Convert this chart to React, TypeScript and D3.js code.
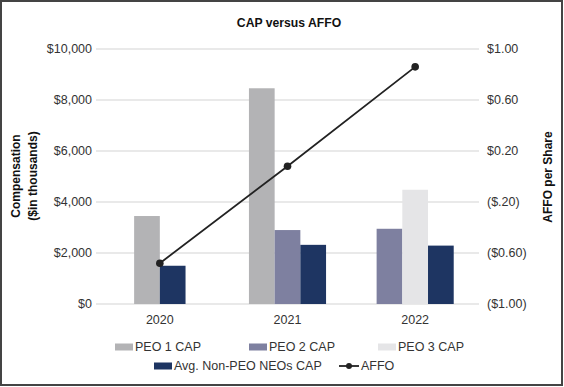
import React, { useEffect, useRef } from 'react';
import * as d3 from 'd3';

// chart data
const years = ['2020', '2021', '2022'];
const peo1Cap = [3450, 8460, null];
const peo2Cap = [null, 2900, 2950];
const peo3Cap = [null, null, 4480];
const avgNonPeoCap = [1500, 2320, 2290];
const affo = [-0.68, 0.08, 0.86];

const leftTicks = [0, 2000, 4000, 6000, 8000, 10000];
const rightTicks = [-1, -0.6, -0.2, 0.2, 0.6, 1];
const rightTickLabels = ['($1.00)', '($0.60)', '($.20)', '$0.20', '$0.60', '$1.00'];

const series = [
  { name: 'PEO 1 CAP', values: peo1Cap, color: '#b3b3b5' },
  { name: 'PEO 2 CAP', values: peo2Cap, color: '#7e80a0' },
  { name: 'PEO 3 CAP', values: peo3Cap, color: '#e5e5e7' },
  { name: 'Avg. Non-PEO NEOs CAP', values: avgNonPeoCap, color: '#1e3562' },
];

const W = 564, H = 387;
const FONT = '"Liberation Sans", Arial, Helvetica, sans-serif';

export default function App() {
  const ref = useRef<SVGSVGElement>(null);

  useEffect(() => {
    const svg = d3.select(ref.current);
    svg.selectAll('*').remove();

    const left = 96, right = 479, top = 49, bottom = 304;
    const barW = 25.7;

    const x = d3.scaleBand().domain(years).range([left, right]).padding(0);
    const y = d3.scaleLinear().domain([0, 10000]).range([bottom, top]);
    const y2 = d3.scaleLinear().domain([-1, 1]).range([bottom, top]);

    // frame
    svg.append('rect')
      .attr('x', 1).attr('y', 1).attr('width', W - 3).attr('height', H - 3)
      .attr('fill', '#fff').attr('stroke', '#444').attr('stroke-width', 2);

    // gridlines
    svg.append('g').selectAll('line').data(leftTicks).join('line')
      .attr('x1', left).attr('x2', right)
      .attr('y1', d => y(d)).attr('y2', d => y(d))
      .attr('stroke', '#e2e2e2').attr('stroke-width', 1.5);

    // left axis labels
    svg.append('g').selectAll('text').data(leftTicks).join('text')
      .attr('x', left - 4).attr('y', d => y(d)).attr('dy', '0.35em')
      .attr('text-anchor', 'end')
      .style('font-family', FONT).style('font-size', '12.5px').attr('fill', '#333')
      .text(d => '$' + d3.format(',')(d));

    // right axis labels
    svg.append('g').selectAll('text').data(rightTicks).join('text')
      .attr('x', right + 8).attr('y', d => y2(d)).attr('dy', '0.35em')
      .attr('text-anchor', 'start')
      .style('font-family', FONT).style('font-size', '12.5px').attr('fill', '#333')
      .text((d, i) => rightTickLabels[i]);

    // bars, centered on the year with only the series present
    years.forEach((yr, i) => {
      const present = series.filter(s => s.values[i] != null);
      const cx = (x(yr) as number) + x.bandwidth() / 2;
      const start = cx - (present.length * barW) / 2;
      svg.append('g').selectAll('rect').data(present).join('rect')
        .attr('x', (d, j) => start + j * barW)
        .attr('width', barW)
        .attr('y', d => y(d.values[i] as number))
        .attr('height', d => bottom - y(d.values[i] as number))
        .attr('fill', d => d.color);
    });

    // AFFO line
    const pts = years.map((yr, i) => [(x(yr) as number) + x.bandwidth() / 2, y2(affo[i])] as [number, number]);
    svg.append('path')
      .attr('d', d3.line()(pts))
      .attr('fill', 'none').attr('stroke', '#222').attr('stroke-width', 1.8);
    svg.append('g').selectAll('circle').data(pts).join('circle')
      .attr('cx', d => d[0]).attr('cy', d => d[1]).attr('r', 3.8).attr('fill', '#222');

    // year labels
    svg.append('g').selectAll('text').data(years).join('text')
      .attr('x', d => (x(d) as number) + x.bandwidth() / 2).attr('y', 324)
      .attr('text-anchor', 'middle')
      .style('font-family', FONT).style('font-size', '12.5px').attr('fill', '#333')
      .text(d => d);

    // title
    svg.append('text')
      .attr('x', 289).attr('y', 27).attr('text-anchor', 'middle')
      .style('font-family', FONT).style('font-size', '12.2px').style('font-weight', 'bold')
      .attr('fill', '#111').text('CAP versus AFFO');

    // axis titles
    const lt = svg.append('text')
      .attr('transform', 'translate(0,176) rotate(-90)')
      .attr('text-anchor', 'middle')
      .style('font-family', FONT).style('font-size', '12px').style('font-weight', 'bold')
      .attr('fill', '#111');
    lt.append('tspan').attr('x', 0).attr('y', 20).text('Compensation');
    lt.append('tspan').attr('x', 0).attr('y', 37).text('($in thousands)');

    svg.append('text')
      .attr('transform', 'translate(552,177) rotate(-90)')
      .attr('text-anchor', 'middle')
      .style('font-family', FONT).style('font-size', '12px').style('font-weight', 'bold')
      .attr('fill', '#111').text('AFFO per Share');

    // legend
    const legend = [
      { s: series[0], x: 115, y: 347 },
      { s: series[1], x: 249, y: 347 },
      { s: series[2], x: 378, y: 347 },
      { s: series[3], x: 154, y: 366 },
    ];
    const lg = svg.append('g');
    legend.forEach(l => {
      lg.append('rect').attr('x', l.x).attr('y', l.y - 3.5).attr('width', 18).attr('height', 7)
        .attr('fill', l.s.color);
      lg.append('text').attr('x', l.x + 20).attr('y', l.y).attr('dy', '0.35em')
        .style('font-family', FONT).style('font-size', '12.5px').attr('fill', '#333')
        .text(l.s.name);
    });
    lg.append('line').attr('x1', 339).attr('x2', 359).attr('y1', 366).attr('y2', 366)
      .attr('stroke', '#222').attr('stroke-width', 1.8);
    lg.append('circle').attr('cx', 349).attr('cy', 366).attr('r', 3).attr('fill', '#222');
    lg.append('text').attr('x', 361).attr('y', 366).attr('dy', '0.35em')
      .style('font-family', FONT).style('font-size', '12.5px').attr('fill', '#333')
      .text('AFFO');
  }, []);

  return (
    <>
      <style>{'body{margin:0}'}</style>
      <svg ref={ref} width={W} height={H} style={{ display: 'block' }} />
    </>
  );
}
